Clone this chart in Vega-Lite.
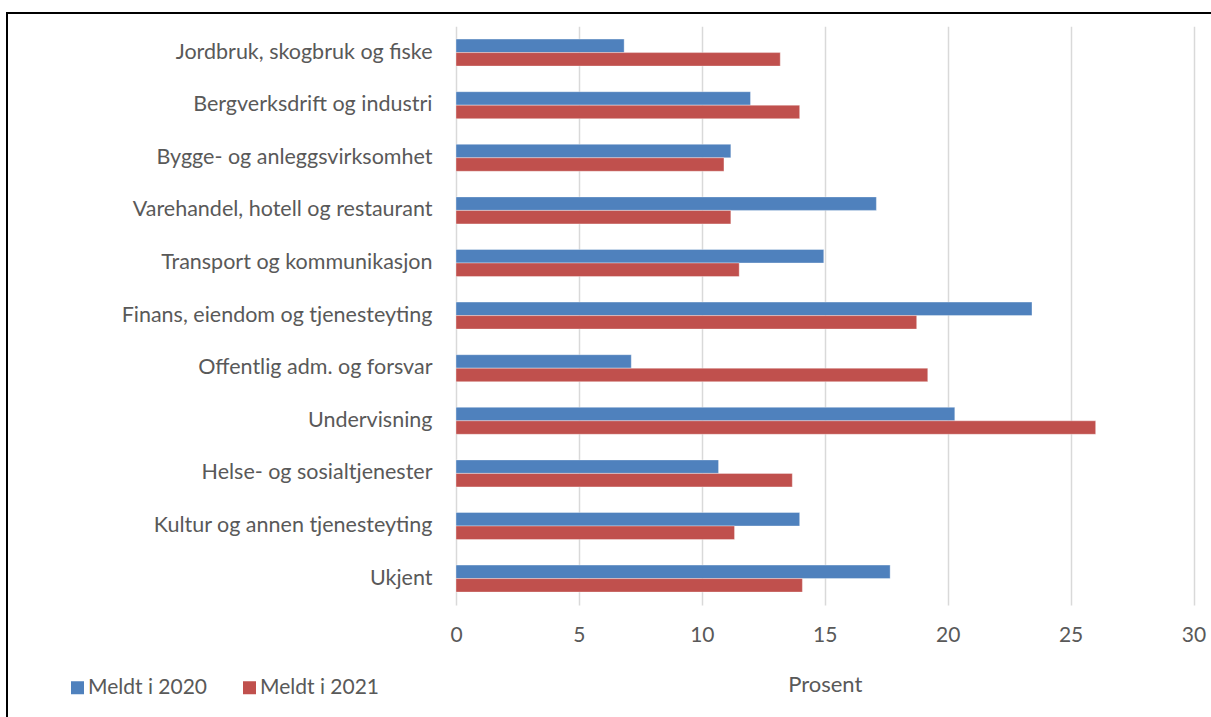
{
  "$schema": "https://vega.github.io/schema/vega-lite/v6.json",
  "width": 1214,
  "height": 714,
  "autosize": {"type": "none"},
  "padding": {"left": 7, "top": 13, "right": 0, "bottom": 0},
  "background": "white",
  "config": {
    "view": {"stroke": "black", "strokeWidth": 2},
    "font": "Lato",
    "axis": {"labelFont": "Lato", "titleFont": "Lato", "labelColor": "#595959", "titleColor": "#595959"}
  },
  "data": {
    "values": [
      {"sektor": "Jordbruk, skogbruk og fiske", "aar": "Meldt i 2020", "prosent": 6.84},
      {"sektor": "Jordbruk, skogbruk og fiske", "aar": "Meldt i 2021", "prosent": 13.19},
      {"sektor": "Bergverksdrift og industri", "aar": "Meldt i 2020", "prosent": 11.98},
      {"sektor": "Bergverksdrift og industri", "aar": "Meldt i 2021", "prosent": 13.98},
      {"sektor": "Bygge- og anleggsvirksomhet", "aar": "Meldt i 2020", "prosent": 11.18},
      {"sektor": "Bygge- og anleggsvirksomhet", "aar": "Meldt i 2021", "prosent": 10.9},
      {"sektor": "Varehandel, hotell og restaurant", "aar": "Meldt i 2020", "prosent": 17.1},
      {"sektor": "Varehandel, hotell og restaurant", "aar": "Meldt i 2021", "prosent": 11.18},
      {"sektor": "Transport og kommunikasjon", "aar": "Meldt i 2020", "prosent": 14.96},
      {"sektor": "Transport og kommunikasjon", "aar": "Meldt i 2021", "prosent": 11.52},
      {"sektor": "Finans, eiendom og tjenesteyting", "aar": "Meldt i 2020", "prosent": 23.43},
      {"sektor": "Finans, eiendom og tjenesteyting", "aar": "Meldt i 2021", "prosent": 18.74},
      {"sektor": "Offentlig adm. og forsvar", "aar": "Meldt i 2020", "prosent": 7.13},
      {"sektor": "Offentlig adm. og forsvar", "aar": "Meldt i 2021", "prosent": 19.19},
      {"sektor": "Undervisning", "aar": "Meldt i 2020", "prosent": 20.29},
      {"sektor": "Undervisning", "aar": "Meldt i 2021", "prosent": 26.02},
      {"sektor": "Helse- og sosialtjenester", "aar": "Meldt i 2020", "prosent": 10.68},
      {"sektor": "Helse- og sosialtjenester", "aar": "Meldt i 2021", "prosent": 13.68},
      {"sektor": "Kultur og annen tjenesteyting", "aar": "Meldt i 2020", "prosent": 13.98},
      {"sektor": "Kultur og annen tjenesteyting", "aar": "Meldt i 2021", "prosent": 11.33},
      {"sektor": "Ukjent", "aar": "Meldt i 2020", "prosent": 17.66},
      {"sektor": "Ukjent", "aar": "Meldt i 2021", "prosent": 14.09}
    ]
  },
  "resolve": {"axis": {"x": "independent", "y": "independent"}},
  "layer": [
    {
      "mark": {"type": "bar", "stroke": "white", "strokeOpacity": 0.35, "strokeWidth": 1},
      "encoding": {
        "y": {
          "field": "sektor",
          "type": "nominal",
          "sort": null,
          "scale": {"range": [13.3, 591.9], "paddingInner": 0.487, "paddingOuter": 0.2435},
          "axis": {
            "title": null,
            "orient": "left",
            "offset": -449,
            "domain": false,
            "ticks": false,
            "tickSize": 0,
            "labelPadding": 24,
            "labelFontSize": 21.5,
            "labelLimit": 0,
            "grid": false
          }
        },
        "yOffset": {
          "field": "aar",
          "type": "nominal",
          "scale": {"paddingInner": 0, "paddingOuter": 0}
        },
        "x": {
          "field": "prosent",
          "type": "quantitative",
          "scale": {"domain": [0, 30], "range": [449, 1186.5], "nice": false, "zero": true},
          "axis": {
            "title": null,
            "orient": "top",
            "offset": 0,
            "values": [0, 5, 10, 15, 20, 25, 30],
            "domain": false,
            "ticks": false,
            "labels": false,
            "grid": true,
            "gridColor": "#D9D9D9",
            "gridWidth": 1.5
          }
        },
        "color": {
          "field": "aar",
          "type": "nominal",
          "scale": {"domain": ["Meldt i 2020", "Meldt i 2021"], "range": ["#4F81BD", "#C0504D"]},
          "legend": {
            "title": null,
            "orient": "none",
            "direction": "horizontal",
            "legendX": 60,
            "legendY": 664,
            "symbolType": "square",
            "symbolSize": 169,
            "symbolStrokeWidth": 0,
            "labelFontSize": 21,
            "labelColor": "#595959",
            "labelFont": "Lato",
            "columnPadding": 31,
            "labelOffset": 0,
            "padding": 0
          }
        }
      }
    },
    {
      "mark": {"type": "point", "opacity": 0},
      "encoding": {
        "y": {"field": "sektor", "type": "nominal", "sort": null, "axis": null},
        "x": {
          "field": "prosent",
          "type": "quantitative",
          "axis": {
            "title": "Prosent",
            "orient": "bottom",
            "offset": -122,
            "values": [0, 5, 10, 15, 20, 25, 30],
            "domain": false,
            "ticks": false,
            "tickSize": 0,
            "labelFlush": false,
            "labelPadding": 19,
            "labelFontSize": 21,
            "titleFontSize": 22,
            "titleFontWeight": "normal",
            "titlePadding": 29,
            "grid": false
          }
        }
      }
    }
  ]
}
